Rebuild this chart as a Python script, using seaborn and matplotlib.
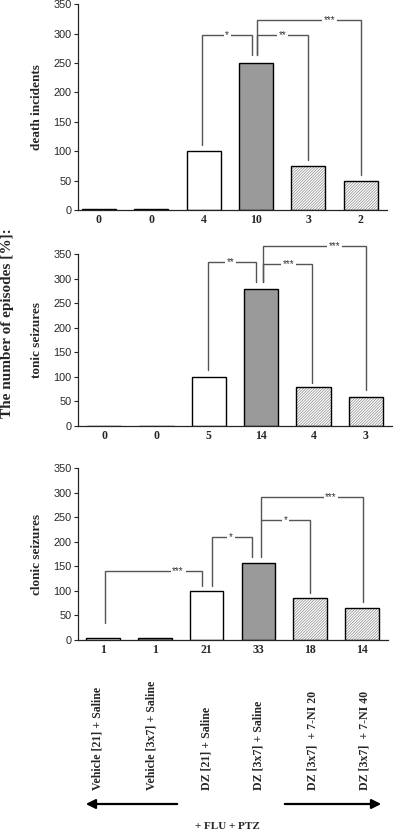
import numpy as np
import matplotlib.pyplot as plt
import matplotlib.transforms as mtransforms
from matplotlib.patches import Rectangle, FancyArrowPatch
import seaborn as sns

sns.set_theme(style="ticks")
plt.rcParams["font.family"] = ["Liberation Sans", "DejaVu Sans"]
plt.rcParams["hatch.linewidth"] = 0.5

# ========== data ==========
groups = ["Vehicle [21] + Saline", "Vehicle [3x7] + Saline", "DZ [21] + Saline",
          "DZ [3x7] + Saline", "DZ [3x7]  + 7-NI 20", "DZ [3x7]  + 7-NI 40"]
death_values = [1.5, 1.5, 100, 250, 75, 50]
death_n = ["0", "0", "4", "10", "3", "2"]
tonic_values = [1, 1, 100, 280, 80, 60]
tonic_n = ["0", "0", "5", "14", "4", "3"]
clonic_values = [5, 5, 100, 157, 86, 66]
clonic_n = ["1", "1", "21", "33", "18", "14"]

# brackets: (x_left, y_left, x_right, y_right, y_top, star_x, label)
death_brackets = [
    (1.97, 110, 2.92, 263, 297, 2.45, "*"),
    (3.02, 263, 4.00, 85, 297, 3.50, "**"),
    (3.02, 263, 5.00, 59, 323, 4.40, "***"),
]
tonic_brackets = [
    (1.98, 114, 2.90, 294, 335, 2.42, "**"),
    (3.03, 294, 3.97, 88, 331, 3.53, "***"),
    (3.03, 294, 5.00, 73, 367, 4.41, "***"),
]
clonic_brackets = [
    (0.04, 35, 1.91, 110, 140, 1.45, "***"),
    (2.10, 110, 2.88, 170, 210, 2.47, "*"),
    (3.05, 170, 4.00, 96, 245, 3.53, "*"),
    (3.05, 245, 5.02, 78, 291, 4.40, "***"),
]

bar_colors = ["white", "#9a9a9a", "white", "#9a9a9a", "white", "white"]

W, H = 393, 830
fig = plt.figure(figsize=(W / 100, H / 100), dpi=100)

def px_axes(x0, x1, y_top, y_bottom):
    return fig.add_axes([x0 / W, 1 - y_bottom / H, (x1 - x0) / W, (y_bottom - y_top) / H])

serif = ["Liberation Serif", "DejaVu Serif"]

def draw_panel(ax, values, counts, brackets, ylabel, xlim):
    sns.barplot(x=groups, y=values, hue=groups, palette=bar_colors, legend=False,
                width=0.65, edgecolor="black", linewidth=1.0, ax=ax)
    for i, p in enumerate(ax.patches[:6]):
        if i >= 4:
            p.set_hatch("////////////")
            p.set_edgecolor("#8c8c8c")
            p.set_linewidth(0)
            ax.add_patch(Rectangle(p.get_xy(), p.get_width(), p.get_height(),
                                   fill=False, edgecolor="black", linewidth=1.0))
    ax.set_ylim(0, 350)
    ax.set_xlim(*xlim)
    ax.set_yticks(np.arange(0, 351, 50))
    ax.tick_params(axis="y", labelsize=7.8, length=3, width=0.8, pad=1.5)
    ax.set_xticks(range(len(groups)))
    ax.set_xticklabels(counts, fontfamily=serif, fontweight="bold", fontsize=8.5)
    ax.tick_params(axis="x", length=0, pad=3)
    ax.set_ylabel(ylabel, fontfamily=serif, fontweight="bold", fontsize=9.5)
    ax.set_xlabel("")
    sns.despine(ax=ax)
    for s in ["left", "bottom"]:
        ax.spines[s].set_linewidth(0.9)
    for xl, yl, xr, yr, top, sx, lab in brackets:
        ax.plot([xl, xl, xr, xr], [yl, top, top, yr], color="#555555", lw=1.0,
                clip_on=False, solid_joinstyle="miter")
        ax.text(sx, top, lab, ha="center", va="center", fontsize=7, color="#333333",
                bbox=dict(facecolor="white", edgecolor="none", pad=1.2), clip_on=False)

ax1 = px_axes(78, 387, 4.3, 210)
ax2 = px_axes(78, 392, 254.3, 426)
ax3 = px_axes(78, 388, 468.3, 640)

draw_panel(ax1, death_values, death_n, death_brackets, "death incidents", (-0.4, 5.5))
draw_panel(ax2, tonic_values, tonic_n, tonic_brackets, "tonic seizures", (-0.5, 5.5))
draw_panel(ax3, clonic_values, clonic_n, clonic_brackets, "clonic seizures", (-0.48, 5.5))

for ax in (ax1, ax2, ax3):
    bb = ax.get_position()
    ax.yaxis.set_label_coords(-(78 - 43) / (bb.width * W), 0.5)

fig.text(8 / W, 1 - 323 / H, "The number of episodes [%]:", rotation=90, ha="center",
         va="center", fontfamily=serif, fontweight="bold", fontsize=11)

# group labels under the bottom panel
trans = mtransforms.blended_transform_factory(ax3.transData, fig.transFigure)
label_x = [-0.1, 0.93, 2.0, 3.0, 4.05, 5.05]
for x, g in zip(label_x, groups):
    ax3.text(x, 1 - 790 / H, g, rotation=90, ha="center", va="bottom", transform=trans,
             fontfamily=serif, fontweight="bold", fontsize=8.6)

fig.patches.append(FancyArrowPatch(
    (180 / W, 1 - 804 / H), (83 / W, 1 - 804 / H), transform=fig.transFigure,
    arrowstyle="-|>", mutation_scale=14, lw=1.6, color="black"))
fig.patches.append(FancyArrowPatch(
    (282 / W, 1 - 804 / H), (384 / W, 1 - 804 / H), transform=fig.transFigure,
    arrowstyle="-|>", mutation_scale=14, lw=1.6, color="black"))
fig.text(227 / W, 1 - 826 / H, "+ FLU + PTZ", ha="center", va="center",
         fontfamily=serif, fontweight="bold", fontsize=8)

fig.savefig("out.png", dpi=100)
